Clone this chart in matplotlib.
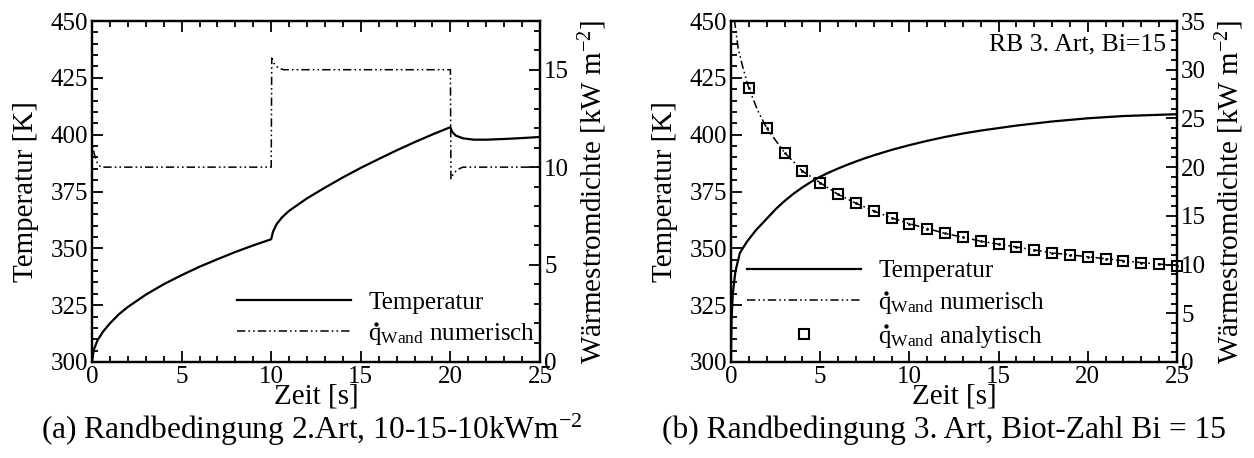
import matplotlib
matplotlib.use("Agg")
import matplotlib.pyplot as plt
from matplotlib.ticker import MultipleLocator
from matplotlib.lines import Line2D
from matplotlib.transforms import IdentityTransform

plt.rcParams['font.family'] = ['Liberation Serif', 'DejaVu Serif']
plt.rcParams['mathtext.fontset'] = 'custom'
plt.rcParams['mathtext.rm'] = 'Liberation Serif'
plt.rcParams['mathtext.it'] = 'Liberation Serif:italic'
plt.rcParams['lines.scale_dashes'] = False

# ---- (a) boundary condition of 2nd kind, flux 10-15-10 kW/m^2 ----
t_temp_a = [0, 0.1, 0.3, 0.6, 1, 1.5, 2, 3, 4, 5, 6, 7, 8, 9, 10,
            10.1, 10.3, 10.6, 11, 12, 13, 14, 15, 16, 17, 18, 19, 20,
            20.1, 20.3, 20.7, 21.3, 22, 23, 24, 25]
temp_a = [300, 305.4, 309.4, 313.2, 317, 321, 324.2, 329.6, 334.2, 338.2,
          341.9, 345.2, 348.4, 351.3, 354,
          357.3, 360.6, 363.6, 366.5, 372, 376.7, 381.2, 385.4, 389.3,
          393.1, 396.7, 400.1, 403.3,
          401.2, 399.6, 398.4, 397.8, 397.8, 398.1, 398.5, 399]

t_flux_a = [0, 0.001, 0.05, 0.15, 0.3, 0.5, 10.0, 10.03, 10.1, 10.25,
            10.45, 10.7, 20.0, 20.03, 20.1, 20.25, 20.45, 20.7, 25]
flux_a = [0, 11.3, 11.0, 10.6, 10.2, 10.0, 10.0, 15.6, 15.4, 15.2,
          15.07, 15.0, 15.0, 9.4, 9.55, 9.75, 9.9, 10.0, 10.0]

# ---- (b) boundary condition of 3rd kind, Bi = 15 ----
t_temp_b = [0, 0.01, 0.03, 0.1, 0.25, 0.5, 0.9, 1.4, 2, 2.5, 3, 3.5, 4,
            4.5, 5, 5.5, 6, 6.5, 7, 7.5, 8, 9, 10, 11, 12, 13, 14, 16, 18,
            20, 22, 25]
temp_b = [300, 310, 318, 330, 340, 348, 353, 358, 363, 367.2, 370.8, 374,
          376.8, 379.3, 381.5, 383.4, 385.1, 386.7, 388.2, 389.6, 390.9,
          393.3, 395.4, 397.3, 399, 400.5, 401.8, 404, 405.8, 407.2, 408.2,
          409]

t_flux_num_b = [0, 0.001, 0.1, 0.2, 0.4, 0.67, 1, 1.5, 2, 3, 4, 5, 6, 7,
                8, 9, 10, 11, 12, 13, 14, 15, 16, 17, 18, 19, 20, 21, 22,
                23, 24, 25]
flux_num_b = [0, 40, 36.5, 35, 32.2, 30.2, 28.1, 25.8, 24.0, 21.5, 19.6,
              18.4, 17.2, 16.3, 15.5, 14.8, 14.2, 13.7, 13.2, 12.8, 12.4,
              12.1, 11.8, 11.5, 11.2, 11.0, 10.8, 10.6, 10.4, 10.2, 10.05,
              9.9]

t_flux_ana_b = list(range(1, 26))
flux_ana_b = [28.1, 24.0, 21.5, 19.6, 18.4, 17.2, 16.3, 15.5, 14.8, 14.2,
              13.7, 13.2, 12.8, 12.4, 12.1, 11.8, 11.5, 11.2, 11.0, 10.8,
              10.6, 10.4, 10.2, 10.05, 9.9]

# the dot over q is added after layout (see add_qdots)
qlabel = r'q$_{\mathrm{Wand}}$'
dashdotdot = (0, (6, 2.2, 1.2, 2.2, 1.2, 2.2))
TICK_FS = 18
LABEL_FS = 21
LEG_FS = 18
CAP_FS = 22.7
W, H = 1254, 458

fig = plt.figure(figsize=(W / 100, H / 100), dpi=100)


def style_axes(ax, axr, ymax_r):
    ax.set_xlim(0, 25)
    ax.set_ylim(300, 450)
    axr.set_ylim(0, ymax_r)
    ax.xaxis.set_major_locator(MultipleLocator(5))
    ax.xaxis.set_minor_locator(MultipleLocator(1))
    ax.yaxis.set_major_locator(MultipleLocator(25))
    ax.yaxis.set_minor_locator(MultipleLocator(5))
    axr.yaxis.set_major_locator(MultipleLocator(5))
    axr.yaxis.set_minor_locator(MultipleLocator(1))
    ax.tick_params(which='both', direction='in', top=True, right=False,
                   labelsize=TICK_FS, width=1.3, pad=3)
    ax.tick_params(which='major', length=8)
    ax.tick_params(which='minor', length=4)
    axr.tick_params(which='both', direction='in', labelsize=TICK_FS,
                    width=1.3, pad=3)
    axr.tick_params(which='major', length=8)
    axr.tick_params(which='minor', length=4)
    for a in (ax, axr):
        for s in a.spines.values():
            s.set_linewidth(1.6)
    ax.set_xlabel('Zeit [s]', fontsize=LABEL_FS, labelpad=-3)
    ax.set_ylabel('Temperatur [K]', fontsize=LABEL_FS, labelpad=8)
    axr.set_ylabel(r'Wärmestromdichte [kW m$^{-2}$]', fontsize=LABEL_FS,
                   labelpad=5)


def add_qdots(legend, skip):
    """Put a time-derivative dot above the leading 'q' of legend labels."""
    em = LEG_FS * fig.dpi / 72.0
    for txt in legend.get_texts()[skip:]:
        x0, y0 = txt.get_transform().transform(txt.get_position())
        fig.add_artist(Line2D([x0 + 0.29 * em], [y0 + 0.66 * em],
                              marker='o', markersize=2.1, color='black',
                              linestyle='none', transform=IdentityTransform()))


# panel (a)
ax1 = fig.add_axes([92 / W, (H - 362) / H, 448 / W, 341 / H])
ax1r = ax1.twinx()
ax1.plot(t_temp_a, temp_a, color='black', lw=1.6)
ax1r.plot(t_flux_a, flux_a, color='black', lw=1.1, linestyle=dashdotdot)
style_axes(ax1, ax1r, 17.5)
ax1r.set_zorder(ax1.get_zorder() + 1)
ax1r.patch.set_visible(False)

h_a = [Line2D([], [], color='black', lw=1.6),
       Line2D([], [], color='black', lw=1.1, linestyle=dashdotdot)]
leg_a = fig.legend(h_a, ['Temperatur', qlabel + ' numerisch'],
                   loc='upper left', bbox_to_anchor=(237 / W, 1 - 291 / H),
                   frameon=False, fontsize=LEG_FS, handlelength=4.55,
                   handletextpad=0.7, labelspacing=0.3, borderpad=0,
                   borderaxespad=0)

fig.text(312 / W, 1 - 430 / H,
         r'(a) Randbedingung 2.Art, 10-15-10kWm$^{-2}$',
         ha='center', va='center', fontsize=CAP_FS)

# panel (b)
ax2 = fig.add_axes([731 / W, (H - 362) / H, 446 / W, 341 / H])
ax2r = ax2.twinx()
ax2.plot(t_temp_b, temp_b, color='black', lw=1.6)
ax2r.plot(t_flux_num_b, flux_num_b, color='black', lw=1.1,
          linestyle=dashdotdot)
ax2r.plot(t_flux_ana_b, flux_ana_b, linestyle='none', marker='s',
          markersize=7, markerfacecolor='none', markeredgecolor='black',
          markeredgewidth=1.5, clip_on=False)
ax2r.plot(t_flux_ana_b, flux_ana_b, linestyle='none', marker='.',
          markersize=2, color='black', clip_on=False)
style_axes(ax2, ax2r, 35)
ax2r.set_zorder(ax2.get_zorder() + 1)
ax2r.patch.set_visible(False)

ax2.text(0.975, 0.93, 'RB 3. Art, Bi=15', transform=ax2.transAxes,
         ha='right', va='center', fontsize=18.5)

h_b = [Line2D([], [], color='black', lw=1.6),
       Line2D([], [], color='black', lw=1.1, linestyle=dashdotdot),
       Line2D([], [], linestyle='none', marker='s', markersize=7,
              markerfacecolor='none', markeredgecolor='black',
              markeredgewidth=1.5)]
leg_b = fig.legend(h_b, ['Temperatur', qlabel + ' numerisch',
                         qlabel + ' analytisch'],
                   loc='upper left', bbox_to_anchor=(747 / W, 1 - 260 / H),
                   frameon=False, fontsize=LEG_FS, handlelength=4.55,
                   handletextpad=0.7, labelspacing=0.3, borderpad=0,
                   borderaxespad=0)

fig.text(944 / W, 1 - 430 / H,
         '(b) Randbedingung 3. Art, Biot-Zahl Bi = 15',
         ha='center', va='center', fontsize=CAP_FS)

fig.canvas.draw()
add_qdots(leg_a, 1)
add_qdots(leg_b, 1)

fig.savefig('out.png', dpi=100)
